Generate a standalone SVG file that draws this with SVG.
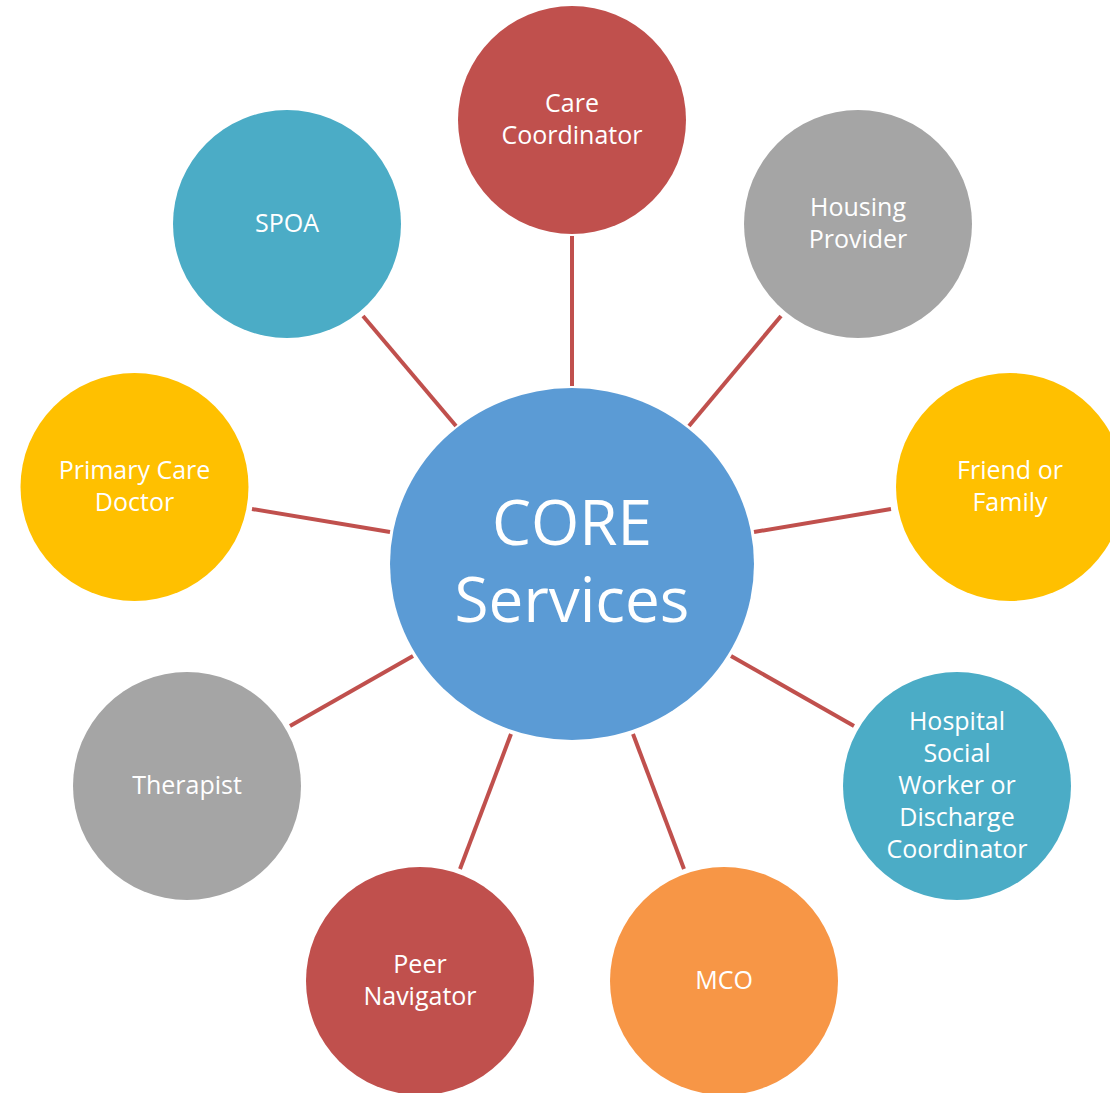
<svg xmlns="http://www.w3.org/2000/svg" width="1110" height="1093" viewBox="0 0 1110 1093">
  <style>
    .link { stroke: #C0504D; stroke-width: 4; fill: none; }
    .lbl { font-family: "Open Sans", "Liberation Sans", sans-serif; font-size: 25px; fill: #FFFFFF; text-anchor: middle; }
    .big { font-family: "Open Sans", "Liberation Sans", sans-serif; font-size: 62px; fill: #FFFFFF; text-anchor: middle; }
    .red { fill: #C0504D; }
    .grey { fill: #A5A5A5; }
    .teal { fill: #4BACC6; }
    .gold { fill: #FFC000; }
    .orange { fill: #F79646; }
    .blue { fill: #5B9BD5; }
  </style>
  <rect width="1110" height="1093" fill="#FFFFFF"/>

  <g id="connectors">
    <line class="link" x1="572" y1="236" x2="572" y2="386"/>
    <line class="link" x1="781" y1="316" x2="689" y2="426"/>
    <line class="link" x1="363" y1="316" x2="456" y2="426"/>
    <line class="link" x1="252" y1="509" x2="390" y2="532"/>
    <line class="link" x1="891" y1="509" x2="754" y2="532"/>
    <line class="link" x1="290" y1="726" x2="413" y2="656"/>
    <line class="link" x1="854" y1="726" x2="731" y2="656"/>
    <line class="link" x1="460" y1="869" x2="511" y2="734"/>
    <line class="link" x1="684" y1="869" x2="633" y2="734"/>
  </g>

  <g id="core">
    <ellipse class="blue" cx="572" cy="564" rx="182" ry="176"/>
    <text class="big" x="572" y="545">CORE</text>
    <text class="big" x="572" y="622">Services</text>
  </g>

  <g id="care-coordinator">
    <circle class="red" cx="572" cy="120" r="114"/>
    <text class="lbl" x="572" y="112">Care</text>
    <text class="lbl" x="572" y="144">Coordinator</text>
  </g>

  <g id="housing-provider">
    <circle class="grey" cx="858" cy="224" r="114"/>
    <text class="lbl" x="858" y="216">Housing</text>
    <text class="lbl" x="858" y="248">Provider</text>
  </g>

  <g id="spoa">
    <circle class="teal" cx="287" cy="224" r="114"/>
    <text class="lbl" x="287" y="232">SPOA</text>
  </g>

  <g id="primary-care-doctor">
    <circle class="gold" cx="134.5" cy="487" r="114"/>
    <text class="lbl" x="134.5" y="479">Primary Care</text>
    <text class="lbl" x="134.5" y="511">Doctor</text>
  </g>

  <g id="friend-or-family">
    <circle class="gold" cx="1010" cy="487" r="114"/>
    <text class="lbl" x="1010" y="479">Friend or</text>
    <text class="lbl" x="1010" y="511">Family</text>
  </g>

  <g id="therapist">
    <circle class="grey" cx="187" cy="786" r="114"/>
    <text class="lbl" x="187" y="794">Therapist</text>
  </g>

  <g id="hospital-social-worker">
    <circle class="teal" cx="957" cy="786" r="114"/>
    <text class="lbl" x="957" y="730">Hospital</text>
    <text class="lbl" x="957" y="762">Social</text>
    <text class="lbl" x="957" y="794">Worker or</text>
    <text class="lbl" x="957" y="826">Discharge</text>
    <text class="lbl" x="957" y="858">Coordinator</text>
  </g>

  <g id="peer-navigator">
    <circle class="red" cx="420" cy="981" r="114"/>
    <text class="lbl" x="420" y="973">Peer</text>
    <text class="lbl" x="420" y="1005">Navigator</text>
  </g>

  <g id="mco">
    <circle class="orange" cx="724" cy="981" r="114"/>
    <text class="lbl" x="724" y="989">MCO</text>
  </g>
</svg>
